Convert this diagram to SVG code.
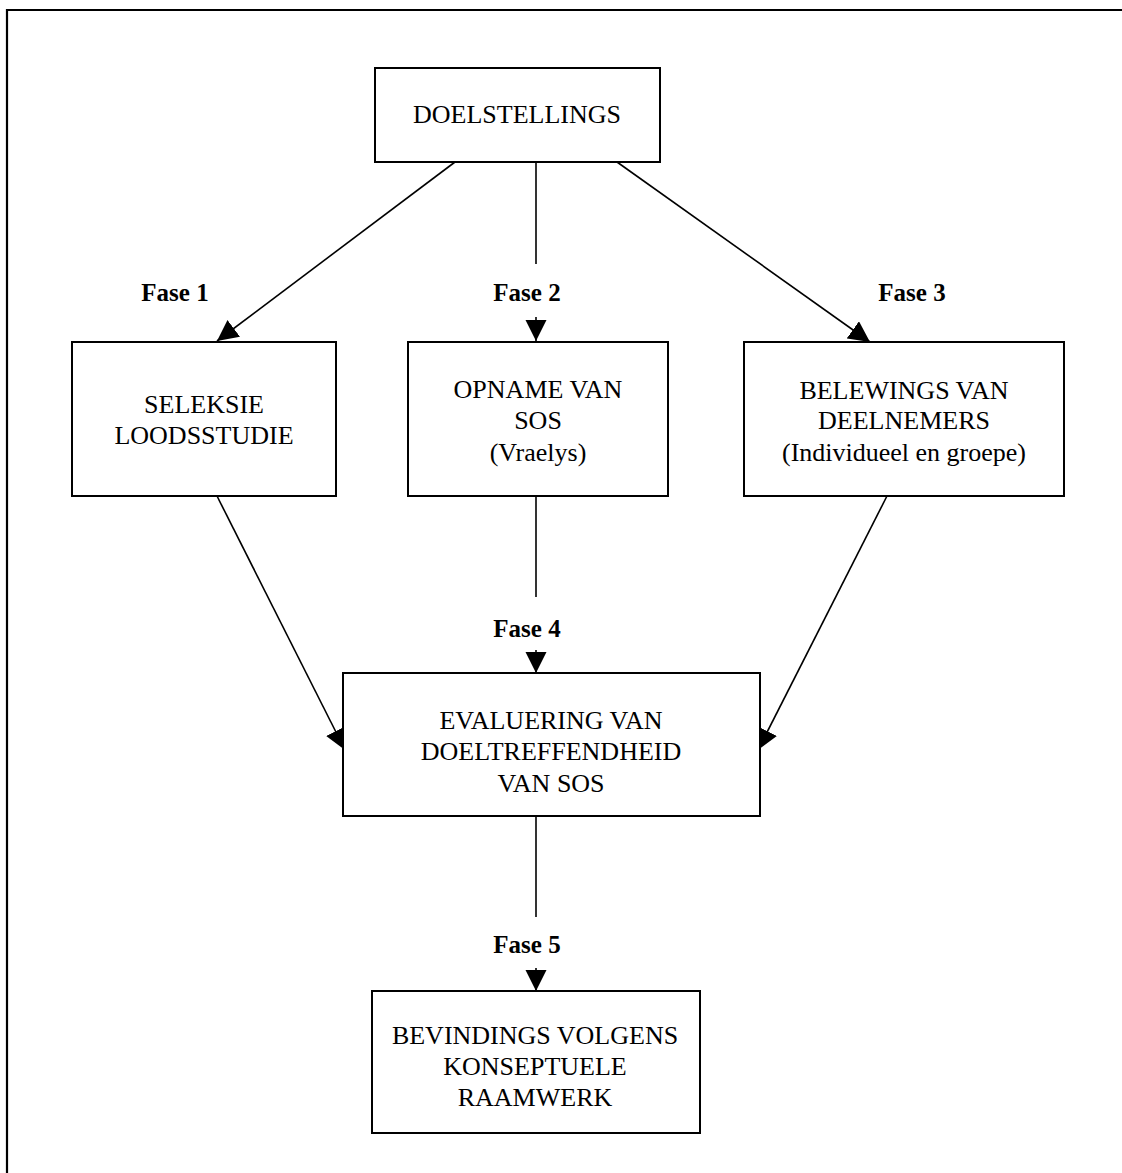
<svg xmlns="http://www.w3.org/2000/svg" width="1122" height="1173" viewBox="0 0 1122 1173">
<style>
.box{fill:#fff;stroke:#000;stroke-width:2}
.t{font-family:"Liberation Serif","Times New Roman",serif;font-size:26px;fill:#000;text-anchor:middle}
.f{font-family:"Liberation Serif","Times New Roman",serif;font-size:25px;font-weight:bold;fill:#000;text-anchor:middle}
.c{stroke:#000;stroke-width:1.6;fill:none}
</style>
<defs>
<marker id="ah" markerUnits="userSpaceOnUse" markerWidth="22" markerHeight="22" refX="21" refY="10.5" orient="auto" viewBox="0 0 22 22">
<path d="M0,0 L21,10.5 L0,21 z" fill="#000"/>
</marker>
</defs>
<rect width="1122" height="1173" fill="#fff"/>
<path d="M7,1173 V10 H1122" fill="none" stroke="#000" stroke-width="2.2"/>
<g id="connectors">
<line class="c" x1="455" y1="162" x2="217" y2="341" marker-end="url(#ah)"/>
<line class="c" x1="536" y1="162" x2="536" y2="264"/>
<line class="c" x1="536" y1="317" x2="536" y2="341" marker-end="url(#ah)"/>
<line class="c" x1="617" y1="162" x2="870" y2="342" marker-end="url(#ah)"/>
<line class="c" x1="217" y1="496" x2="345" y2="750" marker-end="url(#ah)"/>
<line class="c" x1="536" y1="496" x2="536" y2="597"/>
<line class="c" x1="536" y1="650" x2="536" y2="673" marker-end="url(#ah)"/>
<line class="c" x1="887" y1="496" x2="758" y2="750" marker-end="url(#ah)"/>
<line class="c" x1="536" y1="816" x2="536" y2="917"/>
<line class="c" x1="536" y1="968" x2="536" y2="991" marker-end="url(#ah)"/>
</g>
<g id="labels">
<text class="f" x="175" y="301">Fase 1</text>
<text class="f" x="527" y="301">Fase 2</text>
<text class="f" x="912" y="301">Fase 3</text>
<text class="f" x="527" y="637">Fase 4</text>
<text class="f" x="527" y="953">Fase 5</text>
</g>
<g id="doelstellings">
<rect class="box" x="375" y="68" width="285" height="94"/>
<text class="t" x="517" y="123">DOELSTELLINGS</text>
</g>
<g id="seleksie">
<rect class="box" x="72" y="342" width="264" height="154"/>
<text class="t" x="204" y="413">SELEKSIE</text>
<text class="t" x="204" y="444">LOODSSTUDIE</text>
</g>
<g id="opname">
<rect class="box" x="408" y="342" width="260" height="154"/>
<text class="t" x="538" y="398">OPNAME VAN</text>
<text class="t" x="538" y="429">SOS</text>
<text class="t" x="538" y="461">(Vraelys)</text>
</g>
<g id="belewings">
<rect class="box" x="744" y="342" width="320" height="154"/>
<text class="t" x="904" y="399">BELEWINGS VAN</text>
<text class="t" x="904" y="429">DEELNEMERS</text>
<text class="t" x="904" y="461">(Individueel en groepe)</text>
</g>
<g id="evaluering">
<rect class="box" x="343" y="673" width="417" height="143"/>
<text class="t" x="551" y="729">EVALUERING VAN</text>
<text class="t" x="551" y="760">DOELTREFFENDHEID</text>
<text class="t" x="551" y="792">VAN SOS</text>
</g>
<g id="bevindings">
<rect class="box" x="372" y="991" width="328" height="142"/>
<text class="t" x="535" y="1044">BEVINDINGS VOLGENS</text>
<text class="t" x="535" y="1075">KONSEPTUELE</text>
<text class="t" x="535" y="1106">RAAMWERK</text>
</g>
</svg>
